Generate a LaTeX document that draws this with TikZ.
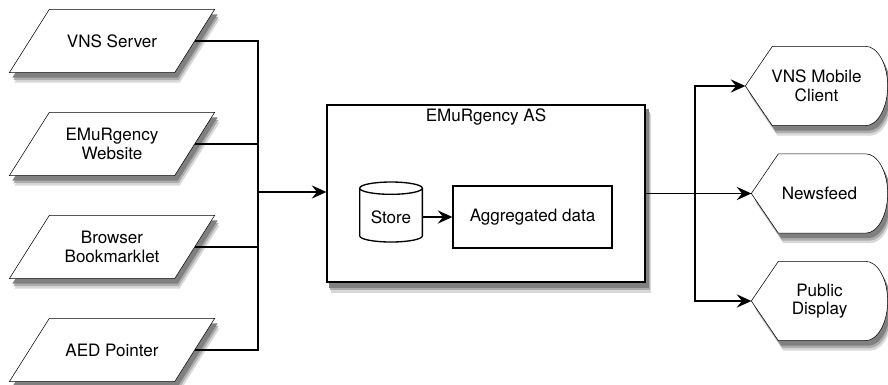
\documentclass[tikz,border=0pt]{standalone}
\usepackage{fontspec}
\setmainfont{TeX Gyre Heros}
\usetikzlibrary{shapes.geometric,arrows.meta,calc,backgrounds}

\tikzset{
  source/.style={align=center, minimum width=123pt, minimum height=46.5pt},
  asbox/.style={draw, fill=white, minimum width=238.5pt, minimum height=132.75pt},
  store/.style={cylinder, shape border rotate=90, aspect=.25, draw, fill=white,
    minimum width=47pt, minimum height=45pt},
  databox/.style={draw, fill=white, minimum width=119.25pt, minimum height=46.5pt},
  display/.style={align=center, minimum width=101.25pt, minimum height=58.5pt},
  flow/.style={-{Stealth[length=11pt,width=10pt,inset=4pt]}},
  shadeA/.style={fill=black!15}, shadeB/.style={fill=black!32}, shadeC/.style={fill=black!50}
}

\begin{document}
\begin{tikzpicture}[x=0.75pt,y=-0.75pt,line width=1pt,
  font=\fontsize{12.8}{14}\selectfont]
	\useasboundingbox (0,0) rectangle (888,385);
	% inputs
	\node[source] (vns) at (112,41) {VNS Server};
	\node[source] (web) at (112,144) {EMuRgency\\Website};
	\node[source] (bookm) at (112,247) {Browser\\Bookmarklet};
	\node[source] (aed) at (112,350) {AED Pointer};
	% application server
	\node[asbox] (as) at (486,193.5) {};
	\node[anchor=north, inner sep=3pt] (astitle) at (as.north) {EMuRgency AS};
	\node[store] (store) at (391,217) {Store};
	\node[databox] (agg) at (532.5,217) {Aggregated data};
	% outputs
	\node[display, minimum width=105.75pt] (mobile) at (816.5,86) {VNS Mobile\\Client};
	\node[display] (news) at (819.5,193.5) {Newsfeed};
	\node[display] (public) at (819.5,301) {Public\\Display};
	\begin{scope}[on background layer]
		% soft shadows
		\fill[shadeA] ($(as.north west)+(5,10)$) rectangle ($(as.south east)+(5,10)$);
		\fill[shadeB] ($(as.north west)+(4,7.5)$) rectangle ($(as.south east)+(4,7.5)$);
		\fill[shadeC] ($(as.north west)+(3,5)$) rectangle ($(as.south east)+(3,5)$);
		\foreach \n in {vns,web,bookm,aed}
			\fill[shadeA] ($(\n.north west)+(25,10)$) -- ($(\n.north east)+(25,10)$)
				-- ($(\n.south east)+(-15,10)$) -- ($(\n.south west)+(-15,10)$) -- cycle;
		\foreach \n in {vns,web,bookm,aed}
			\fill[shadeB] ($(\n.north west)+(24,7.5)$) -- ($(\n.north east)+(24,7.5)$)
				-- ($(\n.south east)+(-16,7.5)$) -- ($(\n.south west)+(-16,7.5)$) -- cycle;
		\foreach \n in {vns,web,bookm,aed}
			\fill[shadeC] ($(\n.north west)+(23,5)$) -- ($(\n.north east)+(23,5)$)
				-- ($(\n.south east)+(-17,5)$) -- ($(\n.south west)+(-17,5)$) -- cycle;
		\foreach \n in {mobile,news,public}
			\fill[shadeA] ($(\n.west)+(5,10)$) -- ($(\n.north west)+(32,10)$) -- ($(\n.north east)+(-17,10)$)
				.. controls ($(\n.north east)+(-5,10)$) and ($(\n.east)+(5,-11.5)$) .. ($(\n.east)+(5,10)$)
				.. controls ($(\n.east)+(5,31.5)$) and ($(\n.south east)+(-5,10)$) .. ($(\n.south east)+(-17,10)$)
				-- ($(\n.south west)+(32,10)$) -- cycle;
		\foreach \n in {mobile,news,public}
			\fill[shadeB] ($(\n.west)+(4,7.5)$) -- ($(\n.north west)+(31,7.5)$) -- ($(\n.north east)+(-18,7.5)$)
				.. controls ($(\n.north east)+(-6,7.5)$) and ($(\n.east)+(4,-14)$) .. ($(\n.east)+(4,7.5)$)
				.. controls ($(\n.east)+(4,29)$) and ($(\n.south east)+(-6,7.5)$) .. ($(\n.south east)+(-18,7.5)$)
				-- ($(\n.south west)+(31,7.5)$) -- cycle;
		\foreach \n in {mobile,news,public}
			\fill[shadeC] ($(\n.west)+(3,5)$) -- ($(\n.north west)+(30,5)$) -- ($(\n.north east)+(-19,5)$)
				.. controls ($(\n.north east)+(-7,5)$) and ($(\n.east)+(3,-16.5)$) .. ($(\n.east)+(3,5)$)
				.. controls ($(\n.east)+(3,26.5)$) and ($(\n.south east)+(-7,5)$) .. ($(\n.south east)+(-19,5)$)
				-- ($(\n.south west)+(30,5)$) -- cycle;
		% outlines
		\foreach \n in {vns,web,bookm,aed}
			\draw[fill=white] ($(\n.north west)+(20,0)$) -- ($(\n.north east)+(20,0)$)
				-- ($(\n.south east)+(-20,0)$) -- ($(\n.south west)+(-20,0)$) -- cycle;
		\foreach \n in {mobile,news,public}
			\draw[fill=white] (\n.west) -- ($(\n.north west)+(27,0)$) -- ($(\n.north east)+(-22,0)$)
				.. controls ($(\n.north east)+(-10,0)$) and ($(\n.east)+(0,-21.5)$) .. (\n.east)
				.. controls ($(\n.east)+(0,21.5)$) and ($(\n.south east)+(-10,0)$) .. ($(\n.south east)+(-22,0)$)
				-- ($(\n.south west)+(27,0)$) -- cycle;
	\end{scope}
	% connectors
	\coordinate (merge) at (258,192);
	\draw (vns.east) -| (merge);
	\draw (web.east) -| (merge);
	\draw (bookm.east) -| (merge);
	\draw (aed.east) -| (merge);
	\draw[flow] (merge) -- (merge -| as.west);
	\draw[flow] (store) -- (agg);
	\coordinate (fork) at (695,193.5);
	\draw[flow] (as.east |- news.west) -- (news.west);
	\draw[flow] (fork) |- (mobile.west);
	\draw[flow] (fork) |- (public.west);
\end{tikzpicture}
\end{document}
